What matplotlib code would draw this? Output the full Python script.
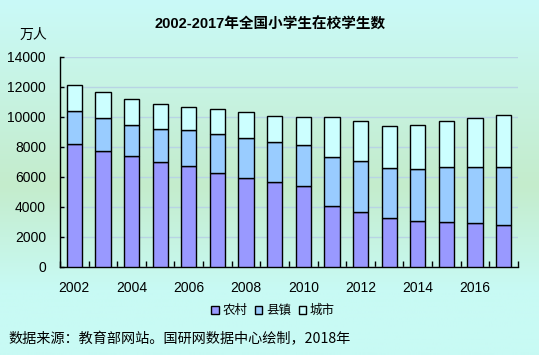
import matplotlib
matplotlib.use("Agg")
import matplotlib.pyplot as plt
import numpy as np

plt.rcParams['font.family'] = ['Liberation Sans', 'Noto Sans CJK SC', 'DejaVu Sans']

years = list(range(2002, 2018))
total = [12160, 11695, 11230, 10898, 10699, 10566, 10366, 10100,
         9968, 9968, 9702, 9369, 9436, 9702, 9901, 10100]
rural_town = [10433, 9901, 9436, 9170, 9104, 8838, 8572, 8306,
              8107, 7310, 7044, 6579, 6512, 6645, 6645, 6645]
rural = [8174, 7708, 7376, 6977, 6711, 6246, 5914, 5648,
         5382, 4053, 3655, 3256, 3057, 2990, 2924, 2791]
town = [a - b for a, b in zip(rural_town, rural)]
city = [a - b for a, b in zip(total, rural_town)]
series_names = ['农村', '县镇', '城市']
colors = ['#9999FF', '#99CCFF', '#CCFFFF']

W, H = 539, 355
fig = plt.figure(figsize=(W / 100, H / 100), dpi=100)

# gradient background
bg = fig.add_axes([0, 0, 1, 1], zorder=-10)
ys = np.linspace(0, 1, 356)
top = np.array([202, 250, 248]) / 255
mid = np.array([196, 236, 204]) / 255
bot = np.array([200, 250, 244]) / 255
cols = np.zeros((len(ys), 3))
for i, y in enumerate(ys * 355):
    if y < 185:
        t = y / 185
        cols[i] = top * (1 - t) + mid * t
    elif y < 290:
        t = (y - 185) / 105
        cols[i] = mid * (1 - t) + bot * t
    else:
        cols[i] = bot
img = np.repeat(cols[:, None, :], 10, axis=1)
bg.imshow(img, aspect='auto', extent=[0, 1, 1, 0])
bg.set_xlim(0, 1); bg.set_ylim(1, 0)
bg.axis('off')

x0, x1 = 60 / W, 518 / W
y0, y1 = 1 - 267 / H, 1 - 57 / H
ax = fig.add_axes([x0, y0, x1 - x0, y1 - y0])
ax.patch.set_alpha(0)

x = np.arange(len(years))
bw = 0.53
ax.bar(x, rural, bw, color=colors[0], edgecolor='black', linewidth=1, label=series_names[0], zorder=3)
ax.bar(x, town, bw, bottom=rural, color=colors[1], edgecolor='black', linewidth=1, label=series_names[1], zorder=3)
ax.bar(x, city, bw, bottom=rural_town, color=colors[2], edgecolor='black', linewidth=1, label=series_names[2], zorder=3)

ax.set_xlim(-0.5, len(years) - 0.5)
ax.set_ylim(0, 14000)
ax.set_yticks(np.arange(0, 14001, 2000))
ax.yaxis.grid(True, color='#b8d4e4', linewidth=1, zorder=0)
ax.set_axisbelow(True)
for s in ['top', 'right']:
    ax.spines[s].set_visible(False)
ax.spines['left'].set_linewidth(1)
ax.spines['bottom'].set_linewidth(1)

ax.set_xticks(np.arange(-0.5, len(years) + 0.5, 1))
ax.set_xticklabels([])
ax.tick_params(axis='x', direction='in', length=4, width=1)
ax.set_xticks(x[::2], minor=True)
ax.set_xticklabels([str(y) for y in years[::2]], minor=True, fontsize=10)
ax.tick_params(axis='x', which='minor', length=0, pad=10)
ax.tick_params(axis='y', direction='in', length=3, width=1, labelsize=10, pad=10)

fig.text(270 / W, 1 - 25 / H, '2002-2017年全国小学生在校学生数', ha='center', va='center',
         fontsize=10.5, fontweight='bold')
fig.text(33 / W, 1 - 35 / H, '万人', ha='center', va='center', fontsize=10)

leg = fig.legend(loc='center', bbox_to_anchor=(273 / W, 1 - 311 / H), ncol=3, frameon=False,
                 fontsize=9, handlelength=0.6, handleheight=0.6, handletextpad=0.3,
                 columnspacing=0.6, borderpad=0)
for h in leg.legend_handles:
    h.set_linewidth(1)

fig.text(8 / W, 1 - 339 / H, '数据来源：教育部网站。国研网数据中心绘制，2018年', ha='left', va='center',
         fontsize=10.2, family=['Noto Sans CJK SC', 'DejaVu Sans'])

fig.savefig('out.png', dpi=100)
